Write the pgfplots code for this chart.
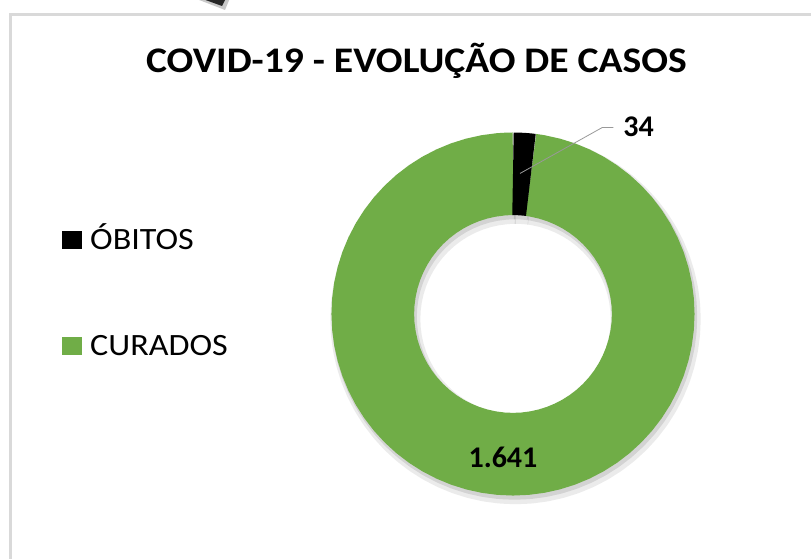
\documentclass[border=0pt]{standalone}
\usepackage{pgfplots}
\pgfplotsset{compat=1.18}
\usepackage{pgfplotstable}
\usepgfplotslibrary{polar}
\usepackage{fontspec}
\setmainfont{Carlito}
\definecolor{cgreen}{HTML}{70AD47}
\definecolor{frame}{HTML}{D9D9D9}

% values: OBITOS 34, CURADOS 1641 -> black slice 34/1675*360 = 7.31 deg from 12 o'clock clockwise
\pgfplotstableread{
a r
90 0.7725
88 0.7725
86 0.7725
84 0.7725
82.69 0.7725
}\obitos
\pgfplotstableread{
a r
82.69 0.7725
82 0.7725
81 0.7725
80 0.7725
75 0.7725
70 0.7725
65 0.7725
60 0.7725
55 0.7725
50 0.7725
45 0.7725
40 0.7725
35 0.7725
30 0.7725
25 0.7725
20 0.7725
15 0.7725
10 0.7725
5 0.7725
0 0.7725
-5 0.7725
-10 0.7725
-15 0.7725
-20 0.7725
-25 0.7725
-30 0.7725
-35 0.7725
-40 0.7725
-45 0.7725
-50 0.7725
-55 0.7725
-60 0.7725
-65 0.7725
-70 0.7725
-75 0.7725
-80 0.7725
-85 0.7725
-90 0.7725
-95 0.7725
-100 0.7725
-105 0.7725
-110 0.7725
-115 0.7725
-120 0.7725
-125 0.7725
-130 0.7725
-135 0.7725
-140 0.7725
-145 0.7725
-150 0.7725
-155 0.7725
-160 0.7725
-165 0.7725
-170 0.7725
-175 0.7725
-180 0.7725
-185 0.7725
-190 0.7725
-195 0.7725
-200 0.7725
-205 0.7725
-210 0.7725
-215 0.7725
-220 0.7725
-225 0.7725
-230 0.7725
-235 0.7725
-240 0.7725
-245 0.7725
-250 0.7725
-255 0.7725
-260 0.7725
-265 0.7725
-268 0.7725
-269 0.7725
-270 0.7725
}\curados

\begin{document}
\begin{tikzpicture}[x=1pt,y=1pt]
\path[use as bounding box] (0,0) rectangle (811,558);
\clip (0,0) rectangle (811,558);
\fill[white] (0,0) rectangle (811,558);
% chart frame
\draw[frame, line width=2.5pt] (10.5,-10) -- (10.5,543.5) -- (830,543.5);
% arrow fragment at top
\fill[black!60, opacity=0.35] (194,560) -- (230,560) -- (225,548) -- cycle;
\fill[black!85] (200,560) -- (226,560) -- (222,552) -- cycle;

% title
\node[anchor=base, inner sep=0pt, xscale=1.1, font=\fontsize{36}{42}\selectfont\bfseries] at (416.5,485) {COVID-19 - EVOLUÇÃO DE CASOS};

% legend
\fill[black] (62,309) rectangle (82,327);
\node[anchor=base west, inner sep=0pt, xscale=1.1, font=\fontsize{31}{36}\selectfont] at (90,309) {ÓBITOS};
\fill[cgreen] (62,203) rectangle (82,221);
\node[anchor=base west, inner sep=0pt, xscale=1.1, font=\fontsize{31}{36}\selectfont] at (90,203) {CURADOS};

\begin{polaraxis}[
  at={(513pt,244pt)}, anchor=origin,
  scale only axis, width=363pt, height=363pt,
  ymin=0, ymax=1, hide axis, clip=false,
]
% shadow
\addplot[no markers, draw=black, opacity=0.08, line width=90pt, line join=round, shift={(2.5pt,-5pt)}] table[x=a,y=r] {\curados};
\addplot[no markers, draw=black, opacity=0.08, line width=90pt, shift={(2.5pt,-5pt)}] table[x=a,y=r] {\obitos};
\addplot[no markers, draw=black, opacity=0.10, line width=85pt, line join=round, shift={(1.5pt,-3pt)}] table[x=a,y=r] {\curados};
\addplot[no markers, draw=black, opacity=0.10, line width=85pt, shift={(1.5pt,-3pt)}] table[x=a,y=r] {\obitos};
% slices
\addplot[no markers, draw=cgreen, line width=82.6pt, line cap=butt] table[x=a,y=r] {\curados};
\addplot[no markers, draw=black, line width=82.6pt, line cap=butt] table[x=a,y=r] {\obitos};
% leader line and data labels
\draw[black!40, line width=0.8pt] (axis cs:87.14,0.7755) -- (axis cs:64.43,1.139) -- (axis cs:61.74,1.1668);
\node[anchor=base west, inner sep=0pt, font=\fontsize{30}{36}\selectfont\bfseries] at (axis cs:58.15,1.151) {34};
\node[anchor=base, inner sep=0pt, font=\fontsize{30}{36}\selectfont\bfseries] at (axis cs:266.26,0.847) {1.641};
\end{polaraxis}
\end{tikzpicture}
\end{document}
